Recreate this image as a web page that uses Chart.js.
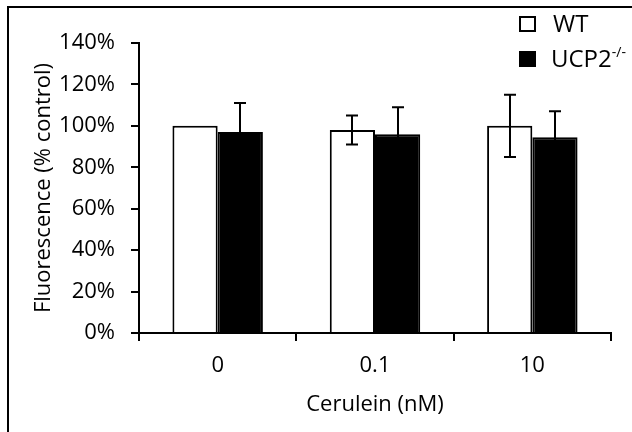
<!DOCTYPE html>
<html lang="en">
<head>
  <meta charset="UTF-8" />
  <title>Fluorescence vs Cerulein</title>
  <script src="https://cdn.jsdelivr.net/npm/chart.js"></script>
  <style>
    body {
      margin: 0;
      background: #ffffff;
      font-family: 'Open Sans', sans-serif;
      color: #000;
    }
    .wrap {
      position: relative;
      width: 632px;
      height: 432px;
      overflow: hidden;
    }
    /* frame round the figure, right and bottom edges fall outside */
    .frame {
      position: absolute;
      left: 7px;
      top: 6px;
      width: 700px;
      height: 500px;
      border: 2px solid #000;
      pointer-events: none;
    }
    .legend {
      position: absolute;
      left: 519px;
      top: 0;
      font-size: 24px;
      line-height: 26px;
    }
    .legend .box {
      position: absolute;
      left: 0;
      width: 13px;
      height: 12px;
      border: 2px solid #000;
    }
    .legend .txt {
      position: absolute;
      white-space: nowrap;
    }
    .legend sup {
      font-size: 14px;
      vertical-align: 10px;
      line-height: 0;
    }
  </style>
</head>
<body>
  <div class="wrap">
    <canvas id="chart" width="632" height="432"></canvas>
    <div class="frame"></div>
    <div class="legend">
      <div class="box" style="top:16px;background:#fff"></div>
      <div class="txt" style="left:34px;top:10px">WT</div>
      <div class="box" style="top:51px;background:#000"></div>
      <div class="txt" style="left:32px;top:45px">UCP2<sup>-/-</sup></div>
    </div>
  </div>

  <script>
    // data (percent of control)
    const categories = ['0', '0.1', '10'];
    const wtValues = [100, 98, 100];
    const wtErrors = [0, 7, 15];
    const koValues = [97, 96, 94.5];
    const koErrors = [14, 13, 12.5];
    const yTicks = [0, 20, 40, 60, 80, 100, 120, 140];

    Chart.defaults.font.family = "'Open Sans', sans-serif";
    Chart.defaults.color = '#000';

    // simple error bars drawn through the y scale
    const errorBars = {
      id: 'errorBars',
      afterDatasetsDraw(chart) {
        const ctx = chart.ctx;
        const yScale = chart.scales.y;
        ctx.save();
        ctx.strokeStyle = '#000';
        ctx.lineWidth = 2;
        chart.data.datasets.forEach((ds, i) => {
          const meta = chart.getDatasetMeta(i);
          meta.data.forEach((bar, j) => {
            const err = ds.errors[j];
            if (!err) return;
            const v = ds.data[j];
            const top = yScale.getPixelForValue(v + err);
            const bot = yScale.getPixelForValue(v - err);
            const x = Math.round(bar.x);
            ctx.beginPath();
            ctx.moveTo(x, top);
            ctx.lineTo(x, bot);
            ctx.moveTo(x - 6, top);
            ctx.lineTo(x + 6, top);
            ctx.moveTo(x - 6, bot);
            ctx.lineTo(x + 6, bot);
            ctx.stroke();
          });
        });
        ctx.restore();
      }
    };

    new Chart(document.getElementById('chart'), {
      type: 'bar',
      data: {
        labels: categories,
        datasets: [
          {
            label: 'WT',
            data: wtValues,
            errors: wtErrors,
            backgroundColor: '#ffffff',
            borderColor: '#000000',
            borderWidth: 2
          },
          {
            label: 'UCP2-/-',
            data: koValues,
            errors: koErrors,
            backgroundColor: '#000000',
            borderColor: '#000000',
            borderWidth: 2
          }
        ]
      },
      options: {
        responsive: false,
        animation: false,
        devicePixelRatio: 1,
        categoryPercentage: 0.575,
        barPercentage: 1.0,
        layout: {
          padding: { top: 43, right: 21, left: 0, bottom: 0 }
        },
        plugins: {
          legend: { display: false },
          tooltip: { enabled: false }
        },
        scales: {
          x: {
            offset: true,
            grid: {
              offset: true,
              drawOnChartArea: false,
              drawTicks: true,
              tickLength: 8,
              color: '#000',
              lineWidth: 2
            },
            border: { color: '#000', width: 2 },
            ticks: {
              font: { size: 22 },
              padding: 12,
              color: '#000'
            },
            title: {
              display: true,
              text: 'Cerulein (nM)',
              font: { size: 22 },
              color: '#000',
              padding: { top: 0, bottom: 14 }
            },
            afterFit(scale) {
              scale.height = 99;
            }
          },
          y: {
            min: 0,
            max: 140,
            afterBuildTicks(scale) {
              scale.ticks = yTicks.map(v => ({ value: v }));
            },
            grid: {
              drawOnChartArea: false,
              drawTicks: true,
              tickLength: 8,
              color: '#000',
              lineWidth: 2
            },
            border: { color: '#000', width: 2 },
            ticks: {
              font: { size: 22 },
              padding: 16,
              color: '#000',
              callback: v => v + '%'
            },
            title: {
              display: true,
              text: 'Fluorescence (% control)',
              font: { size: 22 },
              color: '#000',
              padding: { top: 31, bottom: 0 }
            },
            afterFit(scale) {
              scale.width = 139;
            }
          }
        }
      },
      plugins: [errorBars]
    });
  </script>
</body>
</html>
